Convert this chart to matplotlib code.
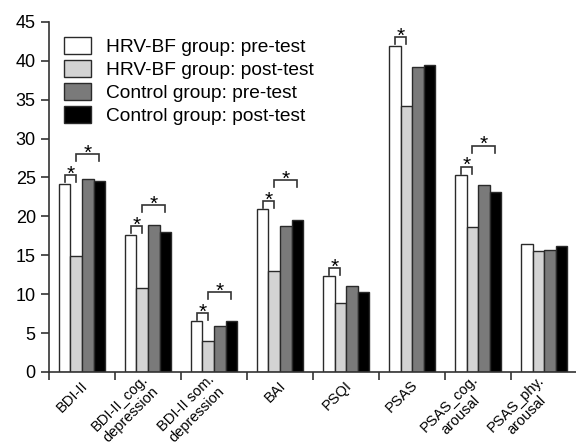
import matplotlib.pyplot as plt
import numpy as np

plt.rcParams['font.family'] = ['Liberation Sans', 'DejaVu Sans']

categories = ["BDI-II", "BDI-II_cog.\ndepression", "BDI-II som.\ndepression", "BAI",
              "PSQI", "PSAS", "PSAS_cog.\narousal", "PSAS_phy.\narousal"]
hrv_pre = [24.2, 17.6, 6.5, 20.9, 12.3, 41.9, 25.3, 16.5]
hrv_post = [14.9, 10.8, 4.0, 13.0, 8.9, 34.2, 18.6, 15.6]
ctl_pre = [24.8, 18.9, 5.9, 18.8, 11.1, 39.2, 24.0, 15.7]
ctl_post = [24.6, 18.0, 6.5, 19.5, 10.3, 39.5, 23.1, 16.2]
# significance: within HRV-BF pre vs post, and HRV-BF post vs control post
sig_within = [1, 1, 1, 1, 1, 1, 1, 0]
sig_between = [1, 1, 1, 1, 0, 0, 1, 0]

series = [hrv_pre, hrv_post, ctl_pre, ctl_post]
labels = ["HRV-BF group: pre-test", "HRV-BF group: post-test",
          "Control group: pre-test", "Control group: post-test"]
colors = ['#ffffff', '#d3d3d3', '#7a7a7a', '#000000']

fig = plt.figure(figsize=(5.76, 4.46), dpi=100)
ax = fig.add_axes([0.085, 0.166, 0.917, 0.785])

x = np.arange(len(categories)) + 0.5
w = 0.175
offs = [-1.5, -0.5, 0.5, 1.5]
for s, lab, c, o in zip(series, labels, colors, offs):
    ax.bar(x + o * w, s, w, color=c, edgecolor='#2a2a2a', linewidth=1.0, label=lab)

lc = '#333333'
for i in range(len(categories)):
    small_top = max(hrv_pre[i], hrv_post[i]) + 1.1
    if sig_within[i]:
        x0, x1 = x[i] + offs[0] * w, x[i] + offs[1] * w
        ax.plot([x0, x0, x1, x1], [small_top - 0.9, small_top, small_top, small_top - 0.9],
                color=lc, lw=1.2, solid_joinstyle='miter')
        ax.text((x0 + x1) / 2, small_top - 0.6, '*', ha='center', va='baseline', fontsize=15)
    if sig_between[i]:
        top = small_top + 2.7
        x0, x1 = x[i] + offs[1] * w, x[i] + offs[3] * w
        ax.plot([x0, x0, x1, x1], [top - 0.9, top, top, top - 0.9],
                color=lc, lw=1.2, solid_joinstyle='miter')
        ax.text((x0 + x1) / 2, top - 0.6, '*', ha='center', va='baseline', fontsize=15)

ax.set_xlim(0, len(categories))
ax.set_ylim(0, 45)
ax.set_yticks(range(0, 46, 5))
ax.set_xticks(range(len(categories)))
ax.set_xticklabels([])
ax.set_xticks(x + 0.05, minor=True)
ax.set_xticklabels(categories, minor=True, rotation=45, ha='right', va='center',
                   rotation_mode='anchor', fontsize=10.5, multialignment='center',
                   linespacing=1.15)
ax.tick_params(axis='x', which='minor', length=0, pad=8)
ax.tick_params(axis='x', which='major', length=6, width=1.2, color='#333333')
ax.tick_params(axis='y', length=6, width=1.2, color='#333333', labelsize=13)
for sp in ['top', 'right']:
    ax.spines[sp].set_visible(False)
for sp in ['left', 'bottom']:
    ax.spines[sp].set_linewidth(1.2)
    ax.spines[sp].set_color('#333333')

ax.legend(loc='upper left', bbox_to_anchor=(0.007, 0.99), frameon=False, fontsize=13.8,
          handlelength=1.4, handleheight=1.0, labelspacing=0.2, handletextpad=0.78,
          borderaxespad=0.2)

fig.savefig('out.png', dpi=100)
